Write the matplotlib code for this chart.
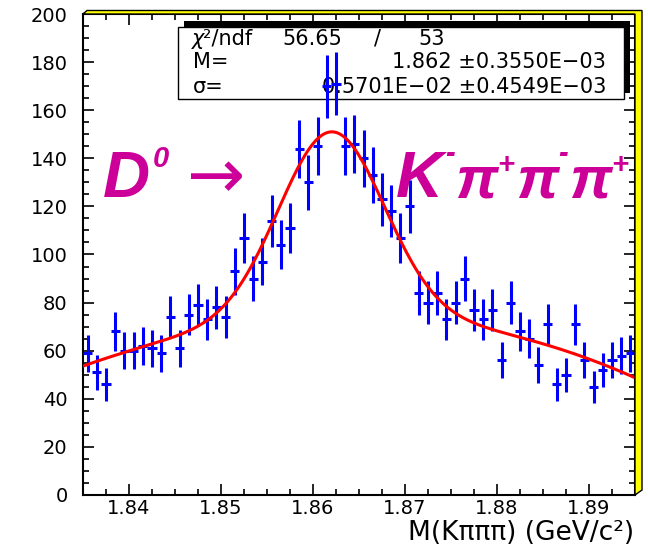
import numpy as np
import matplotlib
matplotlib.use('Agg')
import matplotlib.pyplot as plt
from matplotlib.patches import Polygon, Rectangle
from matplotlib.ticker import MultipleLocator

# K pi pi pi invariant mass histogram, 1 MeV bins from 1.835 GeV
bin_lo = 1.835
bin_width = 0.001
counts = [59, 51, 46, 68, 60, 60, 62, 61, 59, 74,
          61, 75, 79, 73, 78, 74, 93, 107, 90, 97,
          114, 104, 111, 144, 130, 145, 170, 171, 145, 146,
          140, 133, 123, 118, 107, 120, 84, 80, 84, 73,
          80, 90, 77, 73, 77, 56, 80, 68, 65, 54,
          71, 46, 50, 71, 56, 45, 52, 56, 58, 59]

# gaussian + cubic background, background in u = (m - 1.865)/0.01
fit_mass = 1.862
fit_sigma = 0.5701e-2
fit_amp = 77.0
bkg_coef = [74.13, -0.333, -2.55, -0.0527]

stat_rows = [("M=", "1.862 \u00b10.3550E\u221203"),
             ("\u03c3=", "0.5701E\u221202 \u00b10.4549E\u221203")]

W, H = 648, 545
BLUE = '#0000ff'
RED = '#ff0000'
MAGENTA = '#cc0099'


def fx(x):
    return x / W


def fy(y):
    return 1 - y / H


fig = plt.figure(figsize=(W / 100, H / 100), dpi=100)
ax = fig.add_axes([fx(83), fy(495), (635 - 83) / W, (495 - 14) / H])

nb = len(counts)
centers = bin_lo + bin_width * (np.arange(nb) + 0.5)
y = np.array(counts, dtype=float)
ax.errorbar(centers, y, yerr=np.sqrt(y), xerr=bin_width / 2, fmt='none',
            ecolor=BLUE, elinewidth=2.2, capsize=0, zorder=5)

m = np.linspace(bin_lo, bin_lo + nb * bin_width, 600)
u = (m - 1.865) / 0.01
fit = fit_amp * np.exp(-0.5 * ((m - fit_mass) / fit_sigma) ** 2) + np.polyval(bkg_coef[::-1], u)
ax.plot(m, fit, color=RED, lw=2.2, zorder=6)

ax.set_xlim(bin_lo, bin_lo + nb * bin_width)
ax.set_ylim(0, 200)
ax.xaxis.set_major_locator(MultipleLocator(0.01))
ax.xaxis.set_minor_locator(MultipleLocator(0.0025))
ax.yaxis.set_major_locator(MultipleLocator(20))
ax.yaxis.set_minor_locator(MultipleLocator(5))
ax.tick_params(which='both', direction='in', top=True, right=True, width=1.2)
ax.tick_params(which='major', length=8, labelsize=14)
ax.tick_params(which='minor', length=4.5)
ax.tick_params(axis='y', pad=11)
ax.tick_params(axis='x', pad=3)
for s in ax.spines.values():
    s.set_linewidth(1.5)

# yellow bevelled frame on top and right
frame = Polygon([(fx(83), fy(14)), (fx(87), fy(10.5)), (fx(642), fy(10.5)),
                 (fx(642), fy(490)), (fx(635), fy(495)), (fx(635), fy(14))],
                closed=True, facecolor='#ffff00', edgecolor='black', lw=1,
                transform=fig.transFigure)
fig.add_artist(frame)

# fit statistics box with shadow
tf = fig.transFigure
ax.add_patch(Rectangle((fx(184), fy(93)), (630 - 184) / W, (93 - 20.7) / H,
                       facecolor='black', edgecolor='none', transform=tf,
                       clip_on=False, zorder=2))
ax.add_patch(Rectangle((fx(178), fy(99.3)), (624 - 178) / W, (99.3 - 26.7) / H,
                       facecolor='white', edgecolor='black', lw=1, transform=tf,
                       clip_on=False, zorder=2.1))
bf = dict(transform=tf, fontsize=15, family='DejaVu Sans', zorder=3, va='baseline')
ax.text(fx(192), fy(45), "\u03c7", style='italic', **bf)
ax.text(fx(203), fy(45), "\u00b2/ndf", **bf)
ax.text(fx(282), fy(45), "56.65", **bf)
ax.text(fx(378), fy(45), "/", ha='center', **bf)
ax.text(fx(418), fy(45), "53", **bf)
for (name, val), yb in zip(stat_rows, [68, 93]):
    ax.text(fx(193), fy(yb), name, **bf)
    ax.text(fx(606), fy(yb), val, ha='right', **bf)

# decay label
big = dict(transform=tf, color=MAGENTA, family='Liberation Sans', weight='bold',
           style='italic', va='baseline', zorder=1)
sup = dict(big, fontsize=21)
ax.text(fx(103), fy(197), "D", fontsize=47, **big)
ax.text(fx(153), fy(167), "0", **sup)
ax.text(fx(187), fy(198), "\u2192", transform=tf, color=MAGENTA, family='DejaVu Sans',
        fontsize=50, va='baseline', zorder=1)
ax.text(fx(396), fy(197), "K", fontsize=47, **big)
ax.text(fx(445), fy(162), "-", **sup)
ax.text(fx(455), fy(197), "\u03c0", fontsize=43, **big)
ax.text(fx(497), fy(173), "+", **sup)
ax.text(fx(516), fy(197), "\u03c0", fontsize=43, **big)
ax.text(fx(558), fy(162), "-", **sup)
ax.text(fx(569), fy(197), "\u03c0", fontsize=43, **big)
ax.text(fx(611), fy(173), "+", **sup)

fig.text(fx(634), fy(540), "M(K\u03c0\u03c0\u03c0) (GeV/c\u00b2)", ha='right',
         va='baseline', fontsize=19, family='DejaVu Sans')

fig.savefig('out.png', dpi=100)
